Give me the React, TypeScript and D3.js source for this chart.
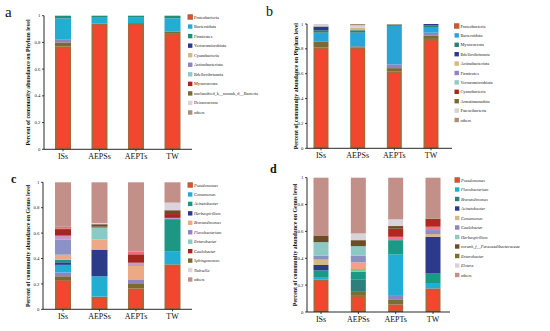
import React from 'react';
import * as d3 from 'd3';

const samples = ['ISs', 'AEPSs', 'AEPTs', 'TW'];
const yTicks = [0, 0.2, 0.4, 0.6, 0.8, 1];

// a: phylum level (first set)
const aKeys = ['Proteobacteria', 'unclassified_k__norank_d__Bacteria', 'Actinobacteriota', 'Bacteroidota', 'Firmicutes', 'Verrucomicrobiota', 'Cyanobacteria', 'Bdellovibrionota', 'Myxococcota', 'Deinococcota', 'others'];
const aColors = ['#f2462e', '#7a6a34', '#8d85c2', '#22aed3', '#1e8f78', '#2c3a8a', '#d4b985', '#8ecac6', '#a3271e', '#dad5dc', '#a89078'];
const aISs = [0.77, 0.03, 0.02, 0.16, 0.02, 0, 0, 0, 0, 0, 0];
const aAEPSs = [0.94, 0, 0, 0.05, 0.01, 0, 0, 0, 0, 0, 0];
const aAEPTs = [0.945, 0, 0, 0.04, 0.015, 0, 0, 0, 0, 0, 0];
const aTW = [0.87, 0.01, 0, 0.10, 0.02, 0, 0, 0, 0, 0, 0];
const aLegend = ['Proteobacteria', 'Bacteroidota', 'Firmicutes', 'Verrucomicrobiota', 'Cyanobacteria', 'Actinobacteriota', 'Bdellovibrionota', 'Myxococcota', 'unclassified_k__norank_d__Bacteria', 'Deinococcota', 'others'];

// b: phylum level (second set)
const bKeys = ['Proteobacteria', 'Armatimonadota', 'Firmicutes', 'Bacteroidota', 'Myxococcota', 'Bdellovibrionota', 'Actinobacteriota', 'Verrucomicrobiota', 'Cyanobacteria', 'Patescibacteria', 'others'];
const bColors = ['#f2462e', '#7a6a34', '#8d85c2', '#2aa3d6', '#2a7f78', '#2c3a8a', '#d4b985', '#8ecac6', '#a3271e', '#d6cfdc', '#a89078'];
const bISs = [0.81, 0.05, 0, 0.07, 0.02, 0.03, 0, 0, 0, 0.02, 0];
const bAEPSs = [0.81, 0.01, 0, 0.11, 0.02, 0, 0.02, 0, 0, 0.02, 0.01];
const bAEPTs = [0.62, 0.025, 0.03, 0.31, 0.01, 0, 0, 0, 0, 0, 0.005];
const bTW = [0.88, 0.025, 0.025, 0.04, 0.02, 0.01, 0, 0, 0, 0, 0];
const bLegend = ['Proteobacteria', 'Bacteroidota', 'Myxococcota', 'Bdellovibrionota', 'Actinobacteriota', 'Firmicutes', 'Verrucomicrobiota', 'Cyanobacteria', 'Armatimonadota', 'Patescibacteria', 'others'];

// c: genus level (first set); g1..g4 are genera not named in the legend
const cKeys = ['Pseudomonas', 'Sphingomonas', 'Flavobacterium', 'Comamonas', 'Herbaspirillum', 'Acinetobacter', 'Brevundimonas', 'Enterobacter', 'g1', 'g2', 'Caulobacter', 'g3', 'g4', 'Nubsella', 'others'];
const cColors = ['#f2462e', '#7a6a30', '#8d85c2', '#22aed3', '#2c3a8a', '#1c9783', '#eda886', '#86cbc5', '#8b93c6', '#c796cb', '#a3271e', '#6e4a25', '#f06a7a', '#dad5dc', '#c38f89'];
const cISs = [0.23, 0.03, 0.03, 0.06, 0.02, 0.02, 0.04, 0, 0.12, 0.03, 0.045, 0.01, 0.015, 0, 0.35];
const cAEPSs = [0.10, 0, 0, 0.16, 0.21, 0, 0.08, 0.09, 0.01, 0, 0, 0.02, 0, 0.01, 0.32];
const cAEPTs = [0.165, 0.04, 0.026, 0, 0, 0, 0.11, 0, 0, 0.026, 0.066, 0, 0.021, 0, 0.546];
const cTW = [0.354, 0, 0, 0.10, 0, 0.256, 0, 0, 0, 0.01, 0.03, 0.03, 0, 0.06, 0.16];
const cLegend = ['Pseudomonas', 'Comamonas', 'Acinetobacter', 'Herbaspirillum', 'Brevundimonas', 'Flavobacterium', 'Enterobacter', 'Caulobacter', 'Sphingomonas', 'Nubsella', 'others'];

// d: genus level (second set); g1..g6 are genera not named in the legend
const dKeys = ['Pseudomonas', 'Enterobacter', 'Caulobacter', 'Flavobacterium', 'Brevundimonas', 'g1', 'Acinetobacter', 'g2', 'Comamonas', 'g3', 'g4', 'Herbaspirillum', 'g5', 'g6', 'norank_f__Paracaedibacteraceae', 'Elstera', 'others'];
const dColors = ['#f2462e', '#7a6e32', '#8d85c2', '#22aed3', '#2d7f7e', '#1a9a84', '#2b3a8a', '#7cc68a', '#d4b885', '#f2a086', '#8a90c2', '#8cc9c4', '#f37490', '#b0281e', '#6e4a25', '#d8d3da', '#c38f89'];
const dISs = [0.24, 0, 0, 0.02, 0, 0.05, 0.04, 0, 0.04, 0, 0.03, 0.10, 0, 0, 0.05, 0, 0.43];
const dAEPSs = [0.12, 0.03, 0, 0, 0.09, 0.06, 0, 0.02, 0, 0.05, 0.05, 0.07, 0, 0, 0.045, 0.05, 0.415];
const dAEPTs = [0.057, 0.033, 0.03, 0.31, 0, 0.105, 0, 0, 0, 0, 0, 0, 0.025, 0.06, 0.02, 0.05, 0.31];
const dTW = [0.176, 0, 0, 0.034, 0, 0.08, 0.27, 0, 0.02, 0, 0.03, 0, 0.025, 0.06, 0, 0, 0.305];
const dLegend = ['Pseudomonas', 'Flavobacterium', 'Brevundimonas', 'Acinetobacter', 'Comamonas', 'Caulobacter', 'Herbaspirillum', 'norank_f__Paracaedibacteraceae', 'Enterobacter', 'Elstera', 'others'];

const SERIF = '"Liberation Serif", "DejaVu Serif", serif';
const RED_EDGE = '#a9683a';

type Layout = {
  label: string; labelX: number; labelY: number; labelSize: number; labelBold: boolean;
  axisX: number; axisEnd: number; y0: number; y1: number;
  c0: number; c3: number; barW: number; titleX: number;
  legX: number; legY: number; legStep: number;
};

function Panel({ keys, colors, values, legend, italic, title, L }: {
  keys: string[]; colors: string[]; values: number[][]; legend: string[];
  italic: boolean; title: string; L: Layout;
}) {
  const rows = samples.map((s, i) => {
    const r: Record<string, any> = { sample: s };
    keys.forEach((k, j) => { r[k] = values[i][j]; });
    return r;
  });
  const series = d3.stack<any>().keys(keys)(rows);
  const color = d3.scaleOrdinal<string, string>().domain(keys).range(colors);
  const x = d3.scalePoint<string>().domain(samples).range([L.c0, L.c3]);
  const y = d3.scaleLinear().domain([0, 1]).range([L.y0, L.y1]);
  const fmt = (v: number) => (v === 0 || v === 1 ? String(v) : d3.format('.1f')(v));
  const sw = 4.4;

  return (
    <g>
      <text x={L.labelX} y={L.labelY} fontFamily={SERIF} fontSize={L.labelSize} fontWeight={L.labelBold ? 'bold' : 'normal'} fill="#111">{L.label}</text>
      {series.map((s) => (
        <g key={s.key}>
          {s.map((d, i) => {
            const h = y(d[0]) - y(d[1]);
            if (h <= 0) return null;
            const isRed = s.key === 'Proteobacteria' || s.key === 'Pseudomonas';
            const xx = (x(samples[i]) as number) - L.barW / 2;
            return isRed ? (
              <rect key={i} x={xx + 0.9} y={y(d[1]) + 0.9} width={L.barW - 1.8} height={Math.max(0, h - 1.8)}
                fill={color(s.key)} stroke={RED_EDGE} strokeWidth={1.8} />
            ) : (
              <rect key={i} x={xx} y={y(d[1])} width={L.barW} height={h} fill={color(s.key)} />
            );
          })}
        </g>
      ))}
      {/* axes */}
      <line x1={L.axisX} x2={L.axisX} y1={L.y0} y2={L.y1} stroke="#111" strokeWidth={0.9} />
      <line x1={L.axisX} x2={L.axisEnd} y1={L.y0} y2={L.y0} stroke="#111" strokeWidth={0.9} />
      {yTicks.map((t) => (
        <g key={t}>
          <line x1={L.axisX - 2} x2={L.axisX} y1={y(t)} y2={y(t)} stroke="#111" strokeWidth={0.8} />
          <text x={L.axisX - 3.5} y={y(t) + 1.6} textAnchor="end" fontFamily={SERIF} fontSize={4.8} fill="#222">{fmt(t)}</text>
        </g>
      ))}
      {samples.map((s) => (
        <g key={s}>
          <line x1={x(s)} x2={x(s)} y1={L.y0} y2={L.y0 + 2} stroke="#111" strokeWidth={0.8} />
          <text x={x(s)} y={L.y0 + 9.5} textAnchor="middle" fontFamily={SERIF} fontSize={8} fill="#111">{s}</text>
        </g>
      ))}
      <text transform={`translate(${L.titleX},${(L.y0 + L.y1) / 2}) rotate(-90)`} textAnchor="middle"
        fontFamily={SERIF} fontSize={5.9} fontWeight="bold" fill="#111">{title}</text>
      {/* legend */}
      {legend.map((name, i) => {
        const cy = L.legY + i * L.legStep;
        const isRed = name === 'Proteobacteria' || name === 'Pseudomonas';
        return (
          <g key={name}>
            <rect x={L.legX} y={cy - sw / 2} width={sw} height={sw} fill={color(name)}
              stroke={isRed ? RED_EDGE : 'none'} strokeWidth={isRed ? 1 : 0} />
            <text x={L.legX + sw + 1.6} y={cy + 1.5} fontFamily={SERIF} fontSize={4.3}
              fontStyle={italic && name !== 'others' ? 'italic' : 'normal'} fill="#222">{name}</text>
          </g>
        );
      })}
    </g>
  );
}

export default function App() {
  return (
    <svg width={550} height={331} viewBox="0 0 550 331"
      style={{ position: 'absolute', left: 0, top: 0, background: '#fff' }}>
      <Panel keys={aKeys} colors={aColors} values={[aISs, aAEPSs, aAEPTs, aTW]} legend={aLegend} italic={false}
        title="Percent of community abundance on Phylum level"
        L={{ label: 'a', labelX: 5, labelY: 17, labelSize: 15, labelBold: false, axisX: 44, axisEnd: 192, y0: 149.3, y1: 15.7, c0: 63, c3: 172.5, barW: 16, titleX: 30, legX: 188, legY: 17, legStep: 9.55 }} />
      <Panel keys={bKeys} colors={bColors} values={[bISs, bAEPSs, bAEPTs, bTW]} legend={bLegend} italic={false}
        title="Percent of community abundance on Phylum level"
        L={{ label: 'b', labelX: 266, labelY: 16, labelSize: 14, labelBold: false, axisX: 307, axisEnd: 452, y0: 148.3, y1: 24, c0: 321, c3: 431, barW: 15, titleX: 298, legX: 454.5, legY: 26, legStep: 9.4 }} />
      <Panel keys={cKeys} colors={cColors} values={[cISs, cAEPSs, cAEPTs, cTW]} legend={cLegend} italic={true}
        title="Percent of community abundance on Genus level"
        L={{ label: 'c', labelX: 11, labelY: 182.5, labelSize: 12, labelBold: true, axisX: 43, axisEnd: 192, y0: 309.3, y1: 182.3, c0: 63, c3: 172.5, barW: 16, titleX: 30, legX: 188, legY: 185, legStep: 9.45 }} />
      <Panel keys={dKeys} colors={dColors} values={[dISs, dAEPSs, dAEPTs, dTW]} legend={dLegend} italic={true}
        title="Percent of community abundance on Genus level"
        L={{ label: 'd', labelX: 270, labelY: 173, labelSize: 12, labelBold: true, axisX: 307, axisEnd: 450, y0: 312, y1: 177.7, c0: 321, c3: 433, barW: 15, titleX: 297, legX: 455, legY: 180, legStep: 9.5 }} />
    </svg>
  );
}
